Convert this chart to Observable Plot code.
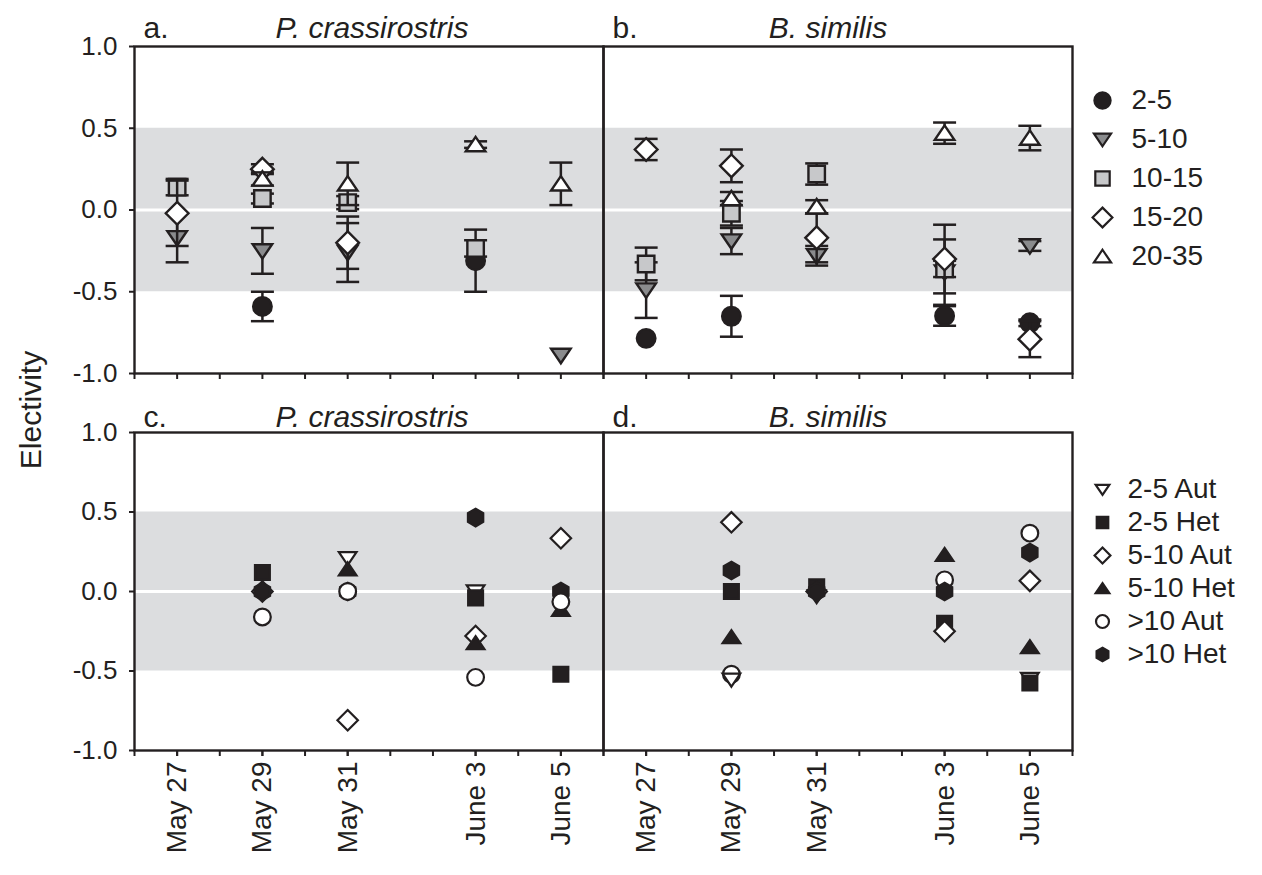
<!DOCTYPE html>
<html><head><meta charset="utf-8">
<script src="https://cdn.jsdelivr.net/npm/d3@7"></script>
<script src="https://cdn.jsdelivr.net/npm/@observablehq/plot@0.6"></script>
<style>
body{margin:0;background:#fff;font-family:"Liberation Sans",Arial,sans-serif;color:#231f20;}
#fig{position:relative;width:1262px;height:875px;overflow:hidden;}
#fig svg{position:absolute;}
#ylab{position:absolute;left:31px;top:410px;font-size:30px;transform:translate(-50%,-50%) rotate(-90deg);white-space:nowrap;}
</style></head><body><div id="fig"><div id="ylab">Electivity</div></div>
<script>
// ---------- DATA ----------
const dateValues = ["2004-05-27","2004-05-29","2004-05-31","2004-06-03","2004-06-05"];
const dateLabels = ["May 27","May 29","May 31","June 3","June 5"];
const species = ["P. crassirostris","B. similis"];
const topLetters = ["a.","b."];
const bottomLetters = ["c.","d."];
const topClasses = ["2-5","5-10","10-15","15-20","20-35"];
const bottomClasses = ["2-5 Aut","2-5 Het","5-10 Aut","5-10 Het",">10 Aut",">10 Het"];

// panel a: P. crassirostris, mean electivity (rows = size class, cols = date)
const aMean = [
  [null, -0.59, null, -0.31, null],
  [-0.17, -0.25, -0.26, null, -0.89],
  [0.14, 0.07, 0.045, -0.235, null],
  [-0.02, 0.25, -0.20, null, null],
  [null, 0.19, 0.16, 0.40, 0.16]
];
const aErr = [
  [null, 0.09, null, 0.19, null],
  [0.15, 0.14, 0.18, null, 0],
  [0.05, 0.03, 0.04, 0.05, null],
  [0.20, 0.03, 0.16, null, null],
  [null, 0.04, 0.13, 0.02, 0.13]
];
// panel b: B. similis
const bMean = [
  [-0.785, -0.65, null, -0.648, -0.69],
  [-0.49, -0.19, -0.28, -0.38, -0.22],
  [-0.33, -0.02, 0.22, -0.36, null],
  [0.37, 0.27, -0.17, -0.30, -0.79],
  [null, 0.07, 0.02, 0.47, 0.44]
];
const bErr = [
  [0, 0.125, null, 0.06, 0.02],
  [0.17, 0.08, 0.06, 0.20, 0.03],
  [0.10, 0.075, 0.065, 0.05, null],
  [0.065, 0.10, 0.15, 0.21, 0.11],
  [null, 0.04, 0.04, 0.065, 0.075]
];
// panel c: P. crassirostris, prey type
const cVal = [
  [null, null, 0.21, 0.0, null],
  [null, 0.12, null, -0.04, -0.52],
  [null, 0.0, -0.81, -0.28, 0.335],
  [null, null, 0.14, -0.325, -0.115],
  [null, -0.16, 0.0, -0.54, -0.065],
  [null, 0.0, 0.0, 0.465, 0.0]
];
// panel d: B. similis, prey type
const dVal = [
  [null, -0.555, -0.03, null, -0.55],
  [null, 0.0, 0.03, -0.2, -0.575],
  [null, 0.435, 0.0, -0.25, 0.067],
  [null, -0.287, null, 0.23, -0.35],
  [null, -0.52, null, 0.073, 0.367],
  [null, 0.132, 0.0, 0.0, 0.245]
];
const yTicks = [-1, -0.5, 0, 0.5, 1];
const band = [[-0.5, 0.5]];

// ---------- SYMBOLS ----------
const f = s => Math.sqrt(s / Math.PI) / 10;
const sym = {
  circle: {draw(c, s){const r = 9*f(s); c.moveTo(r,0); c.arc(0,0,r,0,2*Math.PI); c.closePath();}},
  square: {draw(c, s){const h = 8*f(s); c.rect(-h,-h,2*h,2*h);}},
  diamond: {draw(c, s){const h = 11*f(s); c.moveTo(0,-h); c.lineTo(h,0); c.lineTo(0,h); c.lineTo(-h,0); c.closePath();}},
  triUp: {draw(c, s){const k = f(s); c.moveTo(0,-7.5*k); c.lineTo(9.5*k,6.5*k); c.lineTo(-9.5*k,6.5*k); c.closePath();}},
  triDown: {draw(c, s){const k = f(s); c.moveTo(0,7.5*k); c.lineTo(9.5*k,-6.5*k); c.lineTo(-9.5*k,-6.5*k); c.closePath();}},
  hexagon: {draw(c, s){const r = 9.5*f(s); for (let i = 0; i < 6; i++){const a = -Math.PI/2 + i*Math.PI/3; const x = r*Math.cos(a), y = r*Math.sin(a); i ? c.lineTo(x,y) : c.moveTo(x,y);} c.closePath();}},
  cap: {draw(c, s){const r = 11.5*f(s); c.moveTo(-r,0); c.lineTo(r,0);}}
};
const dark = "#231f20";
const topStyles = [
  {symbol: sym.circle, fill: dark},
  {symbol: sym.triDown, fill: "#8a8b8d"},
  {symbol: sym.square, fill: "#c7c8ca"},
  {symbol: sym.diamond, fill: "white"},
  {symbol: sym.triUp, fill: "white"}
];
const bottomStyles = [
  {symbol: sym.triDown, fill: "white"},
  {symbol: sym.square, fill: dark},
  {symbol: sym.diamond, fill: "white"},
  {symbol: sym.triUp, fill: dark},
  {symbol: sym.circle, fill: "white"},
  {symbol: sym.hexagon, fill: dark}
];
// drawing order of the prey classes in each lower panel (later = on top)
const drawOrder = {"P. crassirostris": [0, 1, 2, 3, 5, 4], "B. similis": [4, 0, 1, 2, 3, 5]};

// ---------- RECORDS ----------
function rows(sp, mean, err, classes) {
  const out = [];
  classes.forEach((cls, i) => dateValues.forEach((dt, j) => {
    const v = mean[i][j];
    if (v == null) return;
    out.push({species: sp, cls, date: new Date(dt), v, e: err ? (err[i][j] ?? 0) : 0});
  }));
  return out;
}
const topData = [...rows(species[0], aMean, aErr, topClasses), ...rows(species[1], bMean, bErr, topClasses)];
const bottomData = [...rows(species[0], cVal, null, bottomClasses), ...rows(species[1], dVal, null, bottomClasses)];

const xDomain = [new Date("2004-05-26"), new Date("2004-06-06")];
const dayTicks = d3.utcDay.range(xDomain[0], d3.utcDay.offset(xDomain[1], 1));
const labelTicks = dateValues.map(d => new Date(d));
const labelOf = new Map(labelTicks.map((d, i) => [+d, dateLabels[i]]));
const titleRows = species.map((s, i) => ({species: s, top: topLetters[i], bottom: bottomLetters[i]}));

const W = 1085, ML = 134, MR = 13;
const fs = 28, fsY = 26, fsT = 30;
const font = "'Liberation Sans', Arial, sans-serif";

function baseMarks(letterKey, dy) {
  return [
    Plot.rect(band, {y1: d => d[0], y2: d => d[1], fill: "#dcdddf"}),
    Plot.ruleY([0], {stroke: "white", strokeWidth: 3}),
    Plot.frame({stroke: dark, strokeWidth: 2.4}),
    Plot.axisY({ticks: yTicks, tickFormat: d => d.toFixed(1), tickSize: 5, tickPadding: 12, fontSize: fsY, label: null, stroke: dark, strokeWidth: 2}),
    Plot.axisX({ticks: dayTicks, tickFormat: () => "", tickSize: 6, label: null, stroke: dark, strokeWidth: 2}),
    Plot.text(titleRows, {fx: "species", text: letterKey, frameAnchor: "top-left", dx: 9, dy, lineAnchor: "bottom", fontSize: fsT, fill: dark}),
    Plot.text(titleRows.slice(0,1), {fx: "species", text: "species", frameAnchor: "top", dx: 3, dy, lineAnchor: "bottom", fontSize: fsT, fontStyle: "italic", fill: dark}),
    Plot.text(titleRows.slice(1), {fx: "species", text: "species", frameAnchor: "top", dx: -10, dy, lineAnchor: "bottom", fontSize: fsT, fontStyle: "italic", fill: dark})
  ];
}

const topMarks = topClasses.flatMap((cls, i) => {
  const d = topData.filter(r => r.cls === cls);
  const de = d.filter(r => r.e > 0);
  const st = topStyles[i];
  return [
    Plot.ruleX(de, {fx: "species", x: "date", y1: r => r.v - r.e, y2: r => r.v + r.e, stroke: dark, strokeWidth: 2.5}),
    Plot.dot(de, {fx: "species", x: "date", y: r => r.v - r.e, symbol: sym.cap, r: 10, fill: "none", stroke: dark, strokeWidth: 2.5}),
    Plot.dot(de, {fx: "species", x: "date", y: r => r.v + r.e, symbol: sym.cap, r: 10, fill: "none", stroke: dark, strokeWidth: 2.5}),
    Plot.dot(d, {fx: "species", x: "date", y: "v", symbol: st.symbol, r: 10.3, fill: st.fill, stroke: dark, strokeWidth: 2.4})
  ];
});

const topPlot = Plot.plot({
  width: W, height: 390,
  marginLeft: ML, marginRight: MR, marginTop: 46, marginBottom: 17,
  x: {type: "utc", domain: xDomain},
  y: {domain: [-1, 1]},
  fx: {domain: species, padding: 0, axis: null},
  style: {fontFamily: font, color: dark, background: "transparent"},
  marks: [...baseMarks("top", -9), ...topMarks]
});
topPlot.style.left = "0px"; topPlot.style.top = "0px";

const bottomMarks = species.flatMap(sp => drawOrder[sp].map(i => {
  const st = bottomStyles[i];
  return Plot.dot(bottomData.filter(r => r.species === sp && r.cls === bottomClasses[i]),
    {fx: "species", x: "date", y: "v", symbol: st.symbol, r: 9.3, fill: st.fill, stroke: dark, strokeWidth: 2.2});
}));

const bottomPlot = Plot.plot({
  width: W, height: 485,
  marginLeft: ML, marginRight: MR, marginTop: 45, marginBottom: 122,
  x: {type: "utc", domain: xDomain},
  y: {domain: [-1, 1]},
  fx: {domain: species, padding: 0, axis: null},
  style: {fontFamily: font, color: dark, background: "transparent"},
  marks: [
    ...baseMarks("bottom", -6),
    Plot.axisX({ticks: labelTicks, tickFormat: d => labelOf.get(+d), tickSize: 6, tickPadding: 5, tickRotate: -90, fontSize: fs, label: null, stroke: dark, strokeWidth: 2}),
    ...bottomMarks
  ]
});
bottomPlot.style.left = "0px"; bottomPlot.style.top = "387px";

function legend(classes, styles, r, height, gap) {
  return Plot.plot({
    width: 182, height, margin: 0, marginTop: 20, marginBottom: 20,
    y: {type: "point", domain: classes, padding: 0, axis: null},
    style: {fontFamily: font, color: dark, background: "transparent"},
    marks: [
      ...classes.map((cls, i) => Plot.dot([cls], {y: d => d, frameAnchor: "left", dx: 22, symbol: styles[i].symbol, r, fill: styles[i].fill, stroke: dark, strokeWidth: 2.2})),
      Plot.text(classes, {y: d => d, text: d => d, frameAnchor: "left", dx: gap, textAnchor: "start", fontSize: fs, fill: dark})
    ]
  });
}
const legTop = legend(topClasses, topStyles, 9, 199, 51);
legTop.style.left = "1080px"; legTop.style.top = "78px";
const legBottom = legend(bottomClasses, bottomStyles, 7.2, 207, 47);
legBottom.style.left = "1080px"; legBottom.style.top = "468px";

const fig = document.getElementById("fig");
fig.append(topPlot, bottomPlot, legTop, legBottom);
</script></body></html>
